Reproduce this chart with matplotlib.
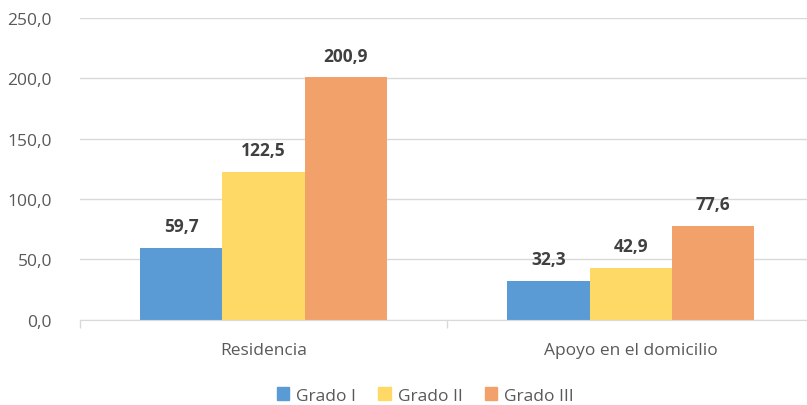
import matplotlib
matplotlib.use("Agg")
import matplotlib.pyplot as plt
from matplotlib.patches import Patch
from matplotlib.ticker import FuncFormatter
import numpy as np

plt.rcParams['font.family'] = ['Open Sans', 'DejaVu Sans']

categories = ["Residencia", "Apoyo en el domicilio"]
series_names = ["Grado I", "Grado II", "Grado III"]
grado_1 = [59.7, 32.3]
grado_2 = [122.5, 42.9]
grado_3 = [200.9, 77.6]
colors = ["#5B9BD5", "#FFD966", "#F2A16A"]

fig = plt.figure(figsize=(8.07, 4.06), dpi=100)
ax = fig.add_axes([0.099, 0.21, 0.91, 0.744])

x = np.arange(len(categories))
w = 0.224
for i, (vals, c) in enumerate(zip([grado_1, grado_2, grado_3], colors)):
    bars = ax.bar(x + (i - 1) * w, vals, width=w, color=c, zorder=3)
    for b, v in zip(bars, vals):
        ax.annotate(f"{v:.1f}".replace(".", ","), (b.get_x() + b.get_width() / 2, v),
                    xytext=(0, 9), textcoords="offset points", ha="center", va="bottom",
                    fontsize=12.5, fontweight="bold", color="#404040")

ax.set_xlim(-0.5, 1.5)
ax.set_ylim(0, 250)
ax.set_yticks(np.arange(0, 251, 50))
ax.yaxis.set_major_formatter(FuncFormatter(lambda v, p: f"{v:.1f}".replace(".", ",")))
ax.grid(axis="y", color="#D9D9D9", linewidth=1, zorder=0)

ax.set_xticks(x)
ax.set_xticklabels(categories)
ax.set_xticks([-0.5, 0.5, 1.5], minor=True)
ax.tick_params(axis="x", which="major", length=0, pad=16, labelsize=12.5, labelcolor="#595959")
ax.tick_params(axis="x", which="minor", length=6, color="#D9D9D9", width=1)
ax.tick_params(axis="y", length=0, pad=20, labelsize=12.5, labelcolor="#595959")

for s in ["top", "right", "left"]:
    ax.spines[s].set_visible(False)
ax.spines["bottom"].set_color("#D9D9D9")
ax.spines["bottom"].set_zorder(4)

handles = [Patch(color=c) for c in colors]
fig.legend(handles, series_names, loc="lower center", bbox_to_anchor=(0.527, -0.035), ncol=3,
           frameon=False, fontsize=12.5, labelcolor="#595959", handlelength=0.7, handleheight=0.7,
           handletextpad=0.4, columnspacing=1.3)

fig.savefig("out.png", dpi=100)
